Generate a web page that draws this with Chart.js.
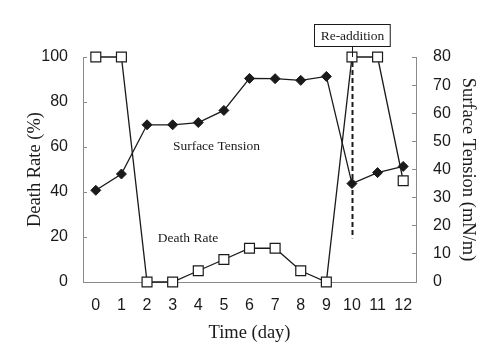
<!DOCTYPE html>
<html lang="en">
<head>
  <meta charset="UTF-8">
  <title>Death Rate and Surface Tension</title>
  <script src="https://cdn.jsdelivr.net/npm/chart.js"></script>
  <style>
    body { margin: 0; background: #fff; }
    #chart { display: block; }
  </style>
</head>
<body>
  <canvas id="chart" width="490" height="347"></canvas>

  <script>
    // Days of the run
    const days = ['0', '1', '2', '3', '4', '5', '6', '7', '8', '9', '10', '11', '12'];
    // Death rate (%), left axis
    const deathRate = [100, 100, 0, 0, 5, 10, 15, 15, 5, 0, 100, 100, 45];
    // Surface tension (mN/m), right axis
    const surfaceTension = [32.6, 38.4, 55.9, 55.9, 56.7, 61.0, 72.4, 72.3, 71.7, 73.1, 35.0, 38.9, 41.1];
    const deathTicks = [0, 20, 40, 60, 80, 100];
    const tensionTicks = [0, 10, 20, 30, 40, 50, 60, 70, 80];
    // Re-addition marker: day and the death-rate level the dashed line runs down to
    const readdDay = 10;
    const readdLow = 19.5;

    const AXIS = '#8a8a8a';
    const INK = '#1a1a1a';
    const SANS = 'Liberation Sans';
    const SERIF = 'Liberation Serif';

    // free text labels and the re-addition callout
    const notes = {
      id: 'notes',
      afterDatasetsDraw(chart) {
        const {ctx, scales: {x, y}} = chart;
        ctx.save();
        ctx.fillStyle = INK;
        ctx.strokeStyle = INK;
        ctx.font = `13.5px "${SERIF}"`;
        ctx.textAlign = 'center';
        ctx.textBaseline = 'middle';
        ctx.fillText('Surface Tension', x.getPixelForValue(4.71), y.getPixelForValue(60.1));
        ctx.fillText('Death Rate', x.getPixelForValue(3.6), y.getPixelForValue(19.2));

        const px = Math.round(x.getPixelForValue(readdDay)) + 0.5;
        const pTop = y.getPixelForValue(100);
        const boxH = 22;
        const boxW = ctx.measureText('Re-addition').width + 12;
        const boxBottom = Math.round(pTop - 11) + 0.5;

        ctx.lineWidth = 1;
        ctx.strokeRect(Math.round(px - boxW / 2) + 0.5 - 1, boxBottom - boxH, boxW, boxH);
        ctx.fillText('Re-addition', px, boxBottom - boxH / 2 + 0.5);

        ctx.beginPath();
        ctx.moveTo(px, boxBottom);
        ctx.lineTo(px, pTop);
        ctx.stroke();

        ctx.lineWidth = 2;
        ctx.setLineDash([5, 3]);
        ctx.beginPath();
        ctx.moveTo(px, pTop + 5);
        ctx.lineTo(px, y.getPixelForValue(readdLow));
        ctx.stroke();
        ctx.restore();
      }
    };

    new Chart(document.getElementById('chart'), {
      type: 'line',
      data: {
        labels: days,
        datasets: [{
          label: 'Death Rate',
          data: deathRate,
          yAxisID: 'y',
          clip: false,
          borderColor: INK,
          borderWidth: 1.3,
          pointStyle: 'rect',
          pointRadius: 7,
          pointBackgroundColor: '#fff',
          pointBorderColor: INK,
          pointBorderWidth: 1.2,
          tension: 0
        }, {
          label: 'Surface Tension',
          data: surfaceTension,
          yAxisID: 'y1',
          clip: false,
          borderColor: INK,
          borderWidth: 1.3,
          pointStyle: 'rectRot',
          pointRadius: 5,
          pointBackgroundColor: INK,
          pointBorderColor: INK,
          pointBorderWidth: 1,
          tension: 0
        }]
      },
      options: {
        responsive: false,
        animation: false,
        layout: { padding: { top: 57, left: 0, right: 0, bottom: 0 } },
        plugins: {
          legend: { display: false },
          tooltip: { enabled: false }
        },
        scales: {
          x: {
            offset: true,
            afterFit: s => { s.height = 65; },
            grid: { display: false, drawTicks: false },
            border: { display: true, color: AXIS, width: 1 },
            ticks: { color: INK, padding: 14, font: { family: SANS, size: 16 }, maxRotation: 0, autoSkip: false },
            title: { display: true, text: 'Time (day)', color: INK, padding: { top: 0, bottom: 3 }, font: { family: SERIF, size: 18.5 } }
          },
          y: {
            position: 'left',
            min: 0,
            max: 100,
            afterBuildTicks: s => { s.ticks = deathTicks.map(v => ({ value: v })); },
            afterFit: s => { s.width = 83; },
            grid: { drawOnChartArea: false, drawTicks: true, tickLength: -4, tickColor: AXIS },
            border: { display: true, color: AXIS, width: 1 },
            ticks: { color: INK, padding: 19, font: { family: SANS, size: 16 } },
            title: { display: true, text: 'Death Rate (%)', color: INK, padding: { top: 24, bottom: 0 }, font: { family: SERIF, size: 18.5 } }
          },
          y1: {
            position: 'right',
            min: 0,
            max: 80,
            afterBuildTicks: s => { s.ticks = tensionTicks.map(v => ({ value: v })); },
            afterFit: s => { s.width = 74; },
            grid: { drawOnChartArea: false, drawTicks: true, tickLength: -4, tickColor: AXIS },
            border: { display: true, color: AXIS, width: 1 },
            ticks: { color: INK, padding: 21, font: { family: SANS, size: 16 } },
            title: { display: true, text: 'Surface Tension (mN/m)', color: INK, padding: { top: 11, bottom: 0 }, font: { family: SERIF, size: 18.5 } }
          }
        }
      },
      plugins: [notes]
    });
  </script>
</body>
</html>
